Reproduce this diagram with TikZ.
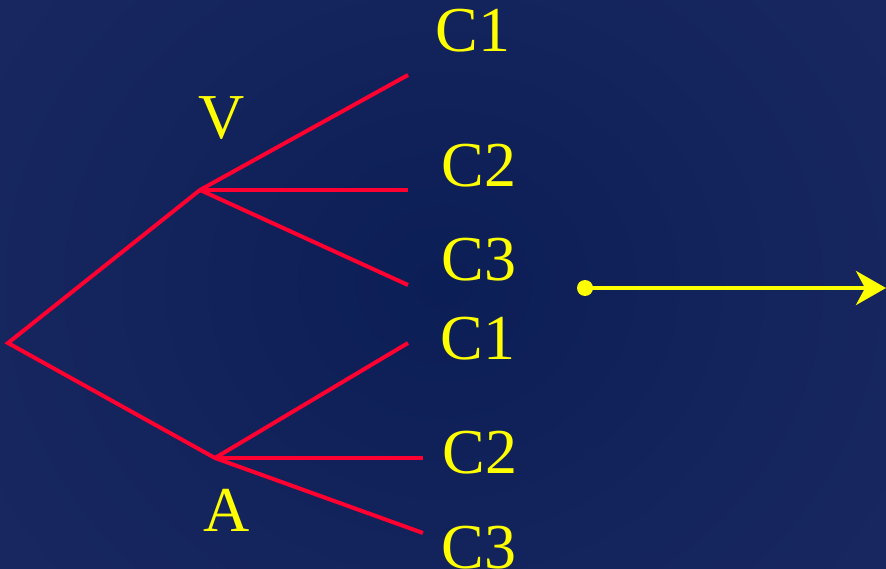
\documentclass[tikz,border=0pt]{standalone}
\usepackage{fontspec}
\setmainfont{Liberation Serif}
\usetikzlibrary{arrows.meta}
\definecolor{bgA}{RGB}{27,41,98}
\definecolor{bgB}{RGB}{12,30,86}
\definecolor{branch}{RGB}{255,0,48}
\definecolor{lab}{RGB}{255,255,0}
\tikzset{
  branchline/.style={draw=branch,line width=4pt,line join=miter},
  lbl/.style={text=lab,inner sep=0pt,font=\fontsize{64}{64}\selectfont},
}
\begin{document}
\begin{tikzpicture}[x=1pt,y=-1pt]
\useasboundingbox (0,0) rectangle (886,569);
\shade[inner color=bgB,outer color=bgA] (-200,-300) rectangle (1086,869);
% branch points
\coordinate (R) at (8,343);
\coordinate (V) at (200,190);
\coordinate (A) at (215,458);
\coordinate (v1) at (408,75);
\coordinate (v2) at (408,190);
\coordinate (v3) at (408,285);
\coordinate (a1) at (408,343);
\coordinate (a2) at (423,458);
\coordinate (a3) at (423,533);
\draw[branchline] (v1) -- (V) -- (R) -- (A) -- (a3);
\draw[branchline] (V) -- (v2);
\draw[branchline] (V) -- (v3);
\draw[branchline] (A) -- (a1);
\draw[branchline] (A) -- (a2);
% labels
\node[lbl] (lV) at (222,118) {V};
\node[lbl] (lA) at (227,510) {A};
\node[lbl] (c1) at (473,31) {C1};
\node[lbl] (c2) at (479,166) {C2};
\node[lbl] (c3) at (479,260) {C3};
\node[lbl] (c4) at (478,339) {C1};
\node[lbl] (c5) at (480,453) {C2};
\node[lbl] (c6) at (479,548) {C3};
% arrow
\coordinate (d0) at (585,288);
\coordinate (d1) at (886,288);
\fill[lab] (d0) circle (8);
\draw[lab,line width=4pt,-{Stealth[length=30pt,width=34pt,inset=9pt]}] (d0) -- (d1);
\end{tikzpicture}
\end{document}
